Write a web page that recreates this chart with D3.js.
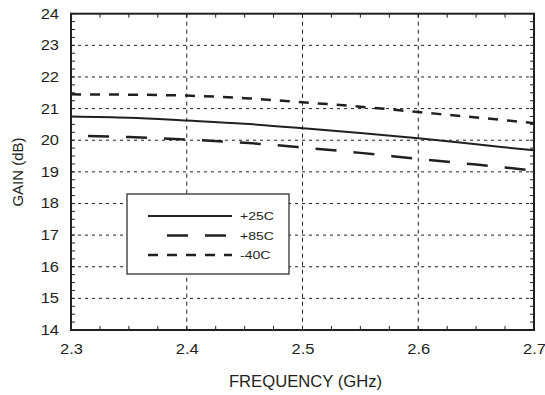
<!DOCTYPE html>
<html>
<head>
<meta charset="utf-8">
<script src="https://cdn.jsdelivr.net/npm/d3@7"></script>
<style>
  body { margin: 0; background: #fff; }
  text { font-family: "Liberation Sans", Arial, sans-serif; fill: #231f20; }
</style>
</head>
<body>
<div id="chart"></div>
<script>
// frequency points (GHz)
const freq = [2.3, 2.35, 2.4, 2.45, 2.5, 2.55, 2.6, 2.65, 2.7];
// gain (dB) per temperature
const gain25 = [20.75, 20.71, 20.62, 20.52, 20.38, 20.23, 20.06, 19.87, 19.68];
const gain85 = [20.15, 20.10, 20.02, 19.92, 19.77, 19.60, 19.41, 19.23, 19.04];
const gainM40 = [21.45, 21.44, 21.41, 21.33, 21.20, 21.06, 20.89, 20.72, 20.54];
const seriesNames = ["+25C", "+85C", "-40C"];
const xTicks = [2.3, 2.4, 2.5, 2.6, 2.7];
const yTicks = [14, 15, 16, 17, 18, 19, 20, 21, 22, 23, 24];

const ink = "#231f20";
const W = 545, H = 395;
const margin = { top: 13.7, right: 11, bottom: 65, left: 71 };
const width = W - margin.left - margin.right;
const height = H - margin.top - margin.bottom;

// the source text is a bit wider than Arial, stretch it horizontally
function stretch(sel, k) {
    sel.each(function() {
        const len = this.getComputedTextLength();
        d3.select(this).attr("textLength", len * k).attr("lengthAdjust", "spacingAndGlyphs");
    });
}

const svg = d3.select("#chart").append("svg")
    .attr("width", W)
    .attr("height", H);
const g = svg.append("g")
    .attr("transform", `translate(${margin.left},${margin.top})`);

const x = d3.scaleLinear().domain([2.3, 2.7]).range([0, width]);
const y = d3.scaleLinear().domain([14, 24]).range([height, 0]);

// dotted grid at major ticks
g.append("g").selectAll("line")
    .data(yTicks.slice(1, -1))
    .join("line")
    .attr("x1", 0).attr("x2", width)
    .attr("y1", d => y(d)).attr("y2", d => y(d))
    .attr("stroke", ink).attr("stroke-width", 1)
    .attr("stroke-dasharray", "3,4");
g.append("g").selectAll("line")
    .data(xTicks.slice(1, -1))
    .join("line")
    .attr("x1", d => x(d)).attr("x2", d => x(d))
    .attr("y1", 0).attr("y2", height)
    .attr("stroke", ink).attr("stroke-width", 1)
    .attr("stroke-dasharray", "4,4");

// minor ticks on all four sides, pointing inward
const xMinor = d3.range(0, 17).map(i => 2.3 + i * 0.025);
const yMinor = d3.range(0, 41).map(i => 14 + i * 0.25);
const tl = 4;
const minor = g.append("g");
xMinor.forEach(v => {
    minor.append("line").attr("x1", x(v)).attr("x2", x(v))
        .attr("y1", height).attr("y2", height - tl);
    minor.append("line").attr("x1", x(v)).attr("x2", x(v))
        .attr("y1", 0).attr("y2", tl);
});
yMinor.forEach(v => {
    minor.append("line").attr("x1", 0).attr("x2", tl)
        .attr("y1", y(v)).attr("y2", y(v));
    minor.append("line").attr("x1", width).attr("x2", width - tl)
        .attr("y1", y(v)).attr("y2", y(v));
});
minor.selectAll("line").attr("stroke", ink).attr("stroke-width", 1);

// tick labels via d3 axes (tick marks hidden)
const xAxis = d3.axisBottom(x).tickValues(xTicks).tickFormat(d3.format(".1f")).tickSize(0).tickPadding(14);
const yAxis = d3.axisLeft(y).tickValues(yTicks).tickFormat(d3.format("d")).tickSize(0).tickPadding(12);
g.append("g")
    .attr("transform", `translate(0,${height})`)
    .call(xAxis)
    .call(a => a.select(".domain").remove())
    .selectAll("text").attr("font-size", 14).attr("fill", ink)
    .style("font-family", "'Liberation Sans', Arial, sans-serif")
    .call(stretch, 1.18);
g.append("g")
    .call(yAxis)
    .call(a => a.select(".domain").remove())
    .selectAll("text").attr("font-size", 14).attr("fill", ink)
    .style("font-family", "'Liberation Sans', Arial, sans-serif")
    .call(stretch, 1.18);

// curves
const dashes = ["none", "21,17", "10,9"];
const offsets = [0, 21, 0];
const line = d3.line()
    .x((d, i) => x(freq[i]))
    .y(d => y(d))
    .curve(d3.curveMonotoneX);
[gain25, gain85, gainM40].forEach((s, i) => {
    g.append("path")
        .datum(s)
        .attr("d", line)
        .attr("fill", "none")
        .attr("stroke", ink)
        .attr("stroke-width", i == 0 ? 2 : 2.5)
        .attr("stroke-dasharray", dashes[i])
        .attr("stroke-dashoffset", offsets[i]);
});

// frame
g.append("rect")
    .attr("width", width).attr("height", height)
    .attr("fill", "none").attr("stroke", ink).attr("stroke-width", 2);

// legend
const lg = svg.append("g").attr("transform", "translate(127,194)");
lg.append("rect")
    .attr("width", 162).attr("height", 80)
    .attr("fill", "#fff").attr("stroke", ink).attr("stroke-width", 1.2);
seriesNames.forEach((name, i) => {
    const yy = 22 + i * 19.5;
    lg.append("line")
        .attr("x1", i == 1 ? 23 : 21).attr("x2", 105)
        .attr("y1", yy).attr("y2", yy)
        .attr("stroke", ink)
        .attr("stroke-width", i == 0 ? 2 : 2.5)
        .attr("stroke-dasharray", dashes[i])
        .attr("stroke-dashoffset", offsets[i]);
    lg.append("text")
        .attr("x", 113).attr("y", yy)
        .attr("dy", "0.35em")
        .attr("font-size", 11.5)
        .text(name)
        .call(stretch, 1.22);
});

// axis titles
svg.append("text")
    .attr("x", margin.left + width / 2 + 3)
    .attr("y", 386.5)
    .attr("text-anchor", "middle")
    .attr("font-size", 16)
    .text("FREQUENCY (GHz)")
    .call(stretch, 1.04);
svg.append("text")
    .attr("transform", "translate(22.5,172) rotate(-90)")
    .attr("text-anchor", "middle")
    .attr("font-size", 15)
    .text("GAIN (dB)");
</script>
</body>
</html>
